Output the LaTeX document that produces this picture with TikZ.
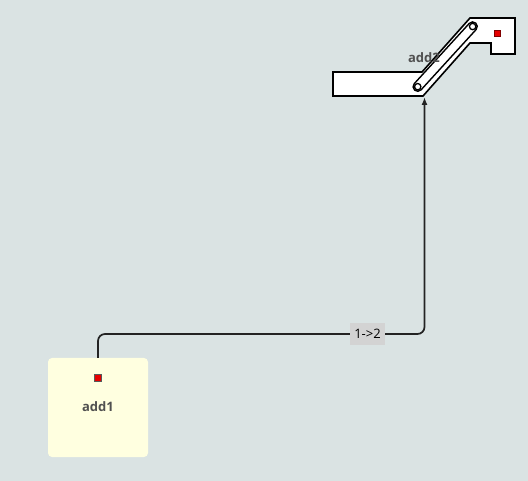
\documentclass[tikz,border=0pt]{standalone}
\usepackage{fontspec}
\setmainfont{Open Sans}
\usetikzlibrary{arrows.meta}
\definecolor{bg}{RGB}{218,227,227}
\definecolor{nodefill}{RGB}{255,255,224}
\definecolor{lblgray}{RGB}{80,80,80}
\definecolor{edgelbl}{RGB}{211,211,211}
\definecolor{conncol}{RGB}{35,35,35}
\definecolor{portred}{RGB}{230,0,0}
\tikzset{
  nodelabel/.style={text=lblgray, font=\fontsize{13}{15}\selectfont\bfseries, inner sep=0pt},
  portsq/.style={fill=portred, draw=#1, line width=0.9pt, minimum size=7.5pt, inner sep=0pt},
  boxnode/.style={fill=nodefill, rounded corners=4pt, minimum width=100pt, minimum height=99pt, inner sep=0pt},
  conn/.style={draw=conncol, line width=1.7pt, rounded corners=7pt, -{Latex[length=8pt,width=6pt]}},
  edgelabel/.style={fill=edgelbl, font=\fontsize{13}{15}\selectfont, text=black, minimum width=35pt, minimum height=22pt, inner sep=0pt},
  ramp/.style={fill=white, draw=black, line width=1.6pt, line join=miter},
}
\begin{document}
\begin{tikzpicture}[x=1pt,y=-1pt]
\fill[bg] (0,0) rectangle (528,481);
\useasboundingbox (0,0) rectangle (528,481);
% add1
\node[boxnode] (add1) at (98,407.5) {};
\node[portsq=gray!70!black] (add1port) at (98,378) {};
\node[nodelabel] (add1lbl) at (98,407) {add1};
% add2 shape
\draw[ramp] (333,72) -- (422,72) -- (470,18) -- (515,18) -- (515,54) -- (491,54) -- (491,43) -- (470,43) -- (423,96) -- (333,96) -- cycle;
\begin{scope}[shift={(417.7,86.7)}, rotate=47.6]
  \draw[fill=white, draw=black, line width=1.4pt] (0,4.6) -- (81.5,4.6) arc[start angle=90, end angle=-90, radius=4.6] -- (0,-4.6) arc[start angle=270, end angle=90, radius=4.6] -- cycle;
  \draw[fill=white, draw=black, line width=1.3pt] (0,0) circle[radius=3.2];
  \draw[fill=white, draw=black, line width=1.3pt] (81.5,0) circle[radius=3.2];
\end{scope}
\node[portsq=red!50!black, minimum size=6.5pt] (add2port) at (497.5,33.5) {};
\node[nodelabel] (add2lbl) at (424,58) {add2};
\coordinate (add2in) at (424.5,97);
\coordinate (bend) at (0,334);
% connector
\draw[conn] (add1.north) -- (add1.north |- bend) -- (add2in |- bend) -- (add2in);
\node[edgelabel] (e12) at (367.5,334) {1->2};
\end{tikzpicture}
\end{document}
